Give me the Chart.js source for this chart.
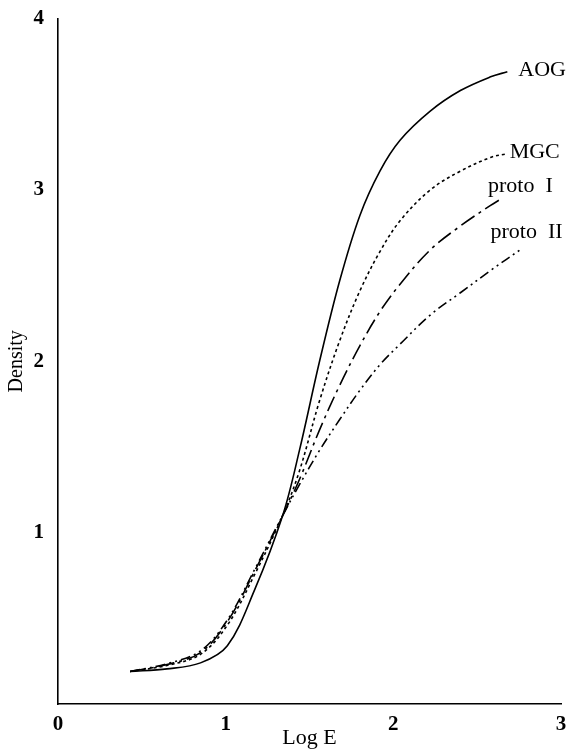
<!DOCTYPE html>
<html>
<head>
<meta charset="utf-8">
<script src="https://cdn.jsdelivr.net/npm/chart.js@4.4.1/dist/chart.umd.min.js"></script>
<style>
  html, body { margin: 0; padding: 0; background: #fff; }
  #wrap { width: 580px; height: 753px; }
</style>
</head>
<body>
<div id="wrap"><canvas id="myChart" width="580" height="753"></canvas></div>
<script>
// values (x = Log E, y = Density)
var aogX    = [0.43, 0.65, 0.85, 1.01, 1.17, 1.34, 1.44, 1.56, 1.68, 1.80, 1.92, 2.04, 2.22, 2.40, 2.58, 2.68];
var aogY    = [0.19, 0.205, 0.24, 0.34, 0.66, 1.10, 1.48, 2.00, 2.47, 2.85, 3.11, 3.29, 3.46, 3.58, 3.66, 3.69];
var mgcX    = [0.43, 0.65, 0.85, 1.01, 1.17, 1.34, 1.44, 1.56, 1.68, 1.80, 1.92, 2.04, 2.22, 2.40, 2.58, 2.67];
var mgcY    = [0.19, 0.225, 0.29, 0.46, 0.75, 1.10, 1.36, 1.77, 2.12, 2.41, 2.64, 2.82, 3.00, 3.11, 3.19, 3.21];
var proto1X = [0.43, 0.65, 0.85, 1.01, 1.17, 1.34, 1.44, 1.56, 1.68, 1.80, 1.92, 2.04, 2.22, 2.40, 2.58, 2.63];
var proto1Y = [0.19, 0.23, 0.30, 0.48, 0.77, 1.10, 1.31, 1.60, 1.86, 2.09, 2.29, 2.45, 2.65, 2.79, 2.91, 2.94];
var proto2X = [0.43, 0.65, 0.85, 1.01, 1.17, 1.34, 1.44, 1.56, 1.68, 1.80, 1.92, 2.04, 2.22, 2.40, 2.58, 2.77];
var proto2Y = [0.19, 0.235, 0.31, 0.49, 0.78, 1.10, 1.28, 1.48, 1.66, 1.83, 1.98, 2.10, 2.27, 2.40, 2.53, 2.66];
var xTicks  = [0, 1, 2, 3];
var yTicks  = [0, 1, 2, 3, 4];
var curveNames = ['AOG', 'MGC', 'proto  I', 'proto  II'];

function pts(xs, ys) {
    return xs.map(function (x, i) { return {x: x, y: ys[i]}; });
}

function curve(name, xs, ys, dash) {
    return {
        label: name,
        data: pts(xs, ys),
        borderColor: '#000',
        borderWidth: 1.6,
        borderDash: dash,
        pointRadius: 0,
        fill: false,
        tension: 0.35
    };
}

// writes the curve names just right of each curve's last point
var endLabels = {
    id: 'endLabels',
    afterDatasetsDraw: function (chart) {
        var ctx = chart.ctx;
        var xs = chart.scales.x, ys = chart.scales.y;
        var nudge = [[11, -1], [4, -2], [-11, -14], [-32, -16]];
        ctx.save();
        ctx.fillStyle = '#000';
        ctx.font = '22px "Liberation Serif"';
        ctx.textBaseline = 'middle';
        chart.data.datasets.forEach(function (ds, i) {
            var last = ds.data[ds.data.length - 1];
            ctx.fillText(curveNames[i], xs.getPixelForValue(last.x) + nudge[i][0], ys.getPixelForValue(last.y) + nudge[i][1]);
        });
        ctx.restore();
    }
};

var ctx = document.getElementById('myChart').getContext('2d');
var chart = new Chart(ctx, {
    type: 'line',
    data: {
        datasets: [
            curve('AOG', aogX, aogY, []),
            curve('MGC', mgcX, mgcY, [3, 3]),
            curve('proto I', proto1X, proto1Y, [16, 5, 3, 5]),
            curve('proto II', proto2X, proto2Y, [10, 4, 2, 4, 2, 4])
        ]
    },
    options: {
        responsive: false,
        animation: false,
        layout: { padding: { top: 18, right: 19, left: 0, bottom: 0 } },
        plugins: {
            legend: { display: false },
            tooltip: { enabled: false }
        },
        scales: {
            x: {
                type: 'linear',
                min: 0,
                max: 3,
                afterBuildTicks: function (s) { s.ticks = xTicks.map(function (v) { return {value: v}; }); },
                afterFit: function (s) { s.height = 49; },
                grid: { display: false },
                border: { display: true, color: '#000', width: 1.6 },
                ticks: {
                    padding: 0,
                    color: '#000',
                    maxRotation: 0,
                    font: { family: 'Liberation Serif', size: 21, weight: 'bold' }
                },
                title: {
                    display: true,
                    text: 'Log E',
                    color: '#000',
                    padding: { top: 0, bottom: 2 },
                    font: { family: 'Liberation Serif', size: 22 }
                }
            },
            y: {
                type: 'linear',
                min: 0,
                max: 4,
                afterBuildTicks: function (s) { s.ticks = yTicks.map(function (v) { return {value: v}; }); },
                afterFit: function (s) { s.width = 58; },
                grid: { display: false },
                border: { display: true, color: '#000', width: 1.6 },
                ticks: {
                    padding: 6,
                    color: '#000',
                    font: { family: 'Liberation Serif', size: 21, weight: 'bold' },
                    callback: function (v) { return v === 0 ? '' : v; }
                },
                title: {
                    display: true,
                    text: 'Density',
                    color: '#000',
                    padding: { top: 5, bottom: 0 },
                    font: { family: 'Liberation Serif', size: 20 }
                }
            }
        }
    },
    plugins: [endLabels]
});
</script>
</body>
</html>
